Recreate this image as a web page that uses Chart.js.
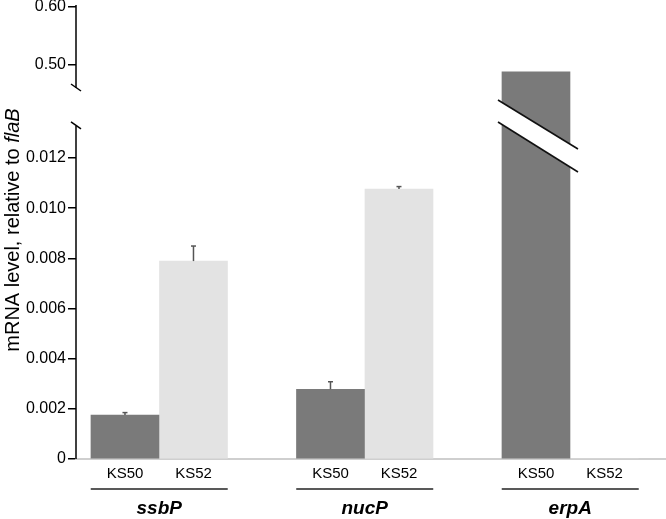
<!DOCTYPE html>
<html>
<head>
<meta charset="utf-8">
<script src="https://cdn.jsdelivr.net/npm/chart.js@4"></script>
<style>
html, body { margin: 0; padding: 0; background: #fff; }
#wrap { width: 666px; height: 519px; }
</style>
</head>
<body>
<div id="wrap"><canvas id="chart"></canvas></div>
<script>
const genes = ['ssbP', 'nucP', 'erpA'];
const strains = ['KS50', 'KS52'];
const ks50 = [0.00175, 0.00278, 0.488];
const ks52 = [0.00789, 0.01076, 0];
const ks50Err = [0.0001, 0.0003, 0];
const ks52Err = [0.0006, 0.0001, 0];
const lowTicks = [0, 0.002, 0.004, 0.006, 0.008, 0.010, 0.012];
const highTicks = [0.50, 0.60];

const FONT = 'Arial, "Liberation Sans", sans-serif';
const DARK = '#7a7a7a';
const LIGHT = '#e3e3e3';
const HIGH_MIN = 0.4603;
const HIGH_MAX = 0.6034;
const LOW_MAX = 0.01479;
const LOW_AXIS_END = 0.01328;

// one empty slot between gene groups
const slotLabels = genes.flatMap((g, i) => i < genes.length - 1 ? [...strains, ''] : strains);

const lowKs50 = { label: 'KS50', yAxisID: 'yLow', backgroundColor: DARK, err: ks50Err,
    data: ks50.map((v, i) => ({ x: i * 3, y: v })) };
const lowKs52 = { label: 'KS52', yAxisID: 'yLow', backgroundColor: LIGHT, err: ks52Err,
    data: ks52.map((v, i) => ({ x: i * 3 + 1, y: v })) };
const highKs50 = { label: 'KS50', yAxisID: 'yHigh', backgroundColor: DARK,
    data: ks50.map((v, i) => ({ x: i * 3, y: v > HIGH_MIN ? v : null })) };

function line(ctx, x1, y1, x2, y2) {
    ctx.beginPath();
    ctx.moveTo(x1, y1);
    ctx.lineTo(x2, y2);
    ctx.stroke();
}

const decor = {
    id: 'decor',
    afterDatasetsDraw(chart) {
        const ctx = chart.ctx;
        const yLow = chart.scales.yLow;

        // error bars
        [0, 1].forEach(di => {
            const ds = chart.data.datasets[di];
            chart.getDatasetMeta(di).data.forEach((el, i) => {
                const e = ds.err[i];
                if (!e) return;
                const v = ds.data[i].y;
                const yTop = yLow.getPixelForValue(v + e);
                ctx.save();
                ctx.strokeStyle = '#555';
                ctx.lineWidth = 1.5;
                line(ctx, el.x, yLow.getPixelForValue(v), el.x, yTop);
                line(ctx, el.x - 2.5, yTop, el.x + 2.5, yTop);
                ctx.restore();
            });
        });

        // break band across the tall erpA bar
        const big = chart.getDatasetMeta(0).data[2];
        const l = big.x - big.width / 2 - 4;
        const r = big.x + big.width / 2 + 8;
        const t = yLow.top;
        ctx.save();
        ctx.fillStyle = '#fff';
        ctx.beginPath();
        ctx.moveTo(l, t + 12);
        ctx.lineTo(r, t + 61);
        ctx.lineTo(r, t + 84);
        ctx.lineTo(l, t + 34);
        ctx.closePath();
        ctx.fill();
        ctx.strokeStyle = '#111';
        ctx.lineWidth = 1.6;
        line(ctx, l, t + 12, r, t + 61);
        line(ctx, l, t + 34, r, t + 84);
        ctx.restore();
    },
    afterDraw(chart) {
        const ctx = chart.ctx;
        const { x, yLow, yHigh } = chart.scales;
        const ax = yLow.right;

        ctx.save();
        ctx.strokeStyle = '#000';
        ctx.lineWidth = 1.5;
        const lowEnd = yLow.getPixelForValue(LOW_AXIS_END);
        line(ctx, ax, yLow.getPixelForValue(0), ax, lowEnd);
        line(ctx, ax, yHigh.top, ax, yHigh.bottom);
        // break marks
        line(ctx, ax - 5, lowEnd - 4, ax + 5, lowEnd + 3);
        line(ctx, ax - 5, yHigh.bottom - 4, ax + 5, yHigh.bottom + 3);

        // gene group lines and names
        ctx.strokeStyle = '#222';
        ctx.fillStyle = '#000';
        ctx.font = 'italic bold 19px ' + FONT;
        ctx.textAlign = 'center';
        ctx.textBaseline = 'middle';
        genes.forEach((g, i) => {
            const x1 = x.getPixelForValue(i * 3 - 0.5);
            const x2 = x.getPixelForValue(i * 3 + 1.5);
            line(ctx, x1, 489, x2, 489);
            ctx.fillText(g, (x1 + x2) / 2, 509);
        });

        // y title with italic gene name
        const plain = 'mRNA level, relative to ';
        const ital = 'flaB';
        ctx.translate(19, 230);
        ctx.rotate(-Math.PI / 2);
        ctx.textAlign = 'left';
        ctx.textBaseline = 'alphabetic';
        ctx.font = '20px ' + FONT;
        const w1 = ctx.measureText(plain).width;
        ctx.font = 'italic 20px ' + FONT;
        const w2 = ctx.measureText(ital).width;
        const start = -(w1 + w2) / 2;
        ctx.font = '20px ' + FONT;
        ctx.fillText(plain, start, 0);
        ctx.font = 'italic 20px ' + FONT;
        ctx.fillText(ital, start + w1, 0);
        ctx.restore();
    }
};

const yCommon = {
    type: 'linear',
    position: 'left',
    stack: 'y',
    border: { display: false },
    grid: { display: true, drawOnChartArea: false, drawTicks: true, tickLength: 8, color: '#000', lineWidth: 1.5 },
    afterFit: s => { s.width = 76; s.paddingTop = 0; s.paddingBottom = 0; }
};

new Chart(document.getElementById('chart'), {
    type: 'bar',
    data: { datasets: [lowKs50, lowKs52, highKs50] },
    options: {
        responsive: true,
        maintainAspectRatio: false,
        animation: false,
        layout: { padding: { top: 5, right: 0, left: 0, bottom: 0 } },
        datasets: { bar: { grouped: false, barThickness: 68, borderWidth: 0 } },
        plugins: { legend: { display: false }, tooltip: { enabled: false } },
        scales: {
            x: {
                type: 'linear',
                offset: false,
                min: -0.715,
                max: 7.898,
                grid: { display: false, drawTicks: false },
                border: { display: true, color: '#cfcfcf', width: 2 },
                afterBuildTicks: s => { s.ticks = slotLabels.map((_, i) => ({ value: i })); },
                ticks: {
                    autoSkip: false, maxRotation: 0, padding: 6, color: '#000',
                    font: { family: FONT, size: 15 },
                    callback: v => slotLabels[Math.round(v)] || ''
                },
                afterFit: s => { s.height = 60; s.paddingLeft = 0; s.paddingRight = 0; }
            },
            yLow: Object.assign({}, yCommon, {
                min: 0, max: LOW_MAX, stackWeight: 371,
                afterBuildTicks: s => { s.ticks = lowTicks.map(v => ({ value: v })); },
                ticks: { padding: 2, color: '#000', font: { family: FONT, size: 16 },
                    callback: v => v === 0 ? '0' : v.toFixed(3) }
            }),
            yHigh: Object.assign({}, yCommon, {
                min: HIGH_MIN, max: HIGH_MAX, stackWeight: 83,
                afterBuildTicks: s => { s.ticks = highTicks.map(v => ({ value: v })); },
                ticks: { padding: 2, color: '#000', font: { family: FONT, size: 16 },
                    callback: v => v.toFixed(2) }
            })
        }
    },
    plugins: [decor]
});
</script>
</body>
</html>
